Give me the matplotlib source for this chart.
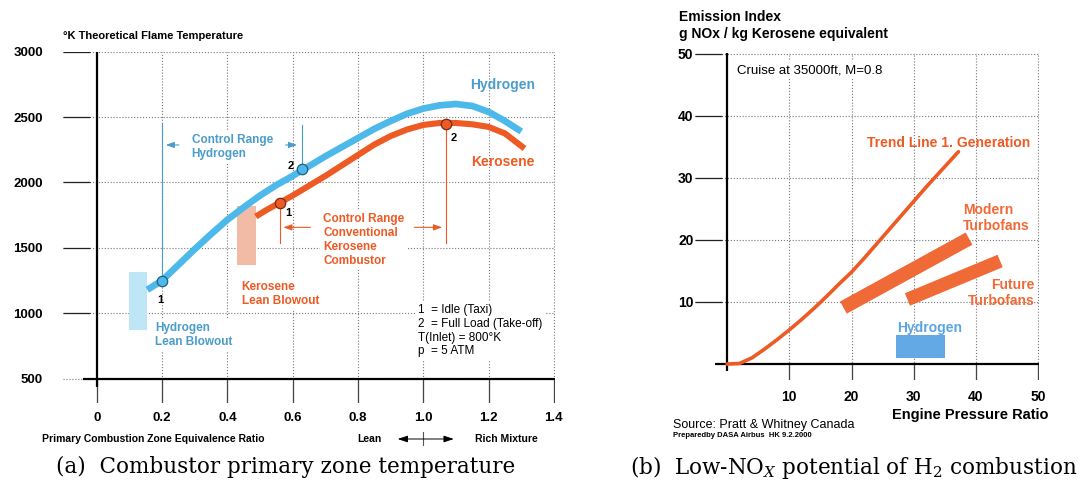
import matplotlib.pyplot as plt
import numpy as np

plt.rcParams['font.family'] = 'Liberation Sans'
plt.rcParams['mathtext.fontset'] = 'dejavuserif'

# (a) theoretical flame temperature vs primary zone equivalence ratio
phi_h2 = [0.155, 0.2, 0.25, 0.3, 0.35, 0.4, 0.45, 0.5, 0.55, 0.6, 0.65, 0.7, 0.75, 0.8,
          0.85, 0.9, 0.95, 1.0, 1.05, 1.1, 1.15, 1.2, 1.25, 1.3]
temp_h2 = [1180, 1250, 1370, 1490, 1605, 1715, 1810, 1900, 1980, 2050, 2125, 2200, 2270, 2340,
           2410, 2470, 2525, 2565, 2590, 2600, 2585, 2540, 2470, 2390]
phi_ker = [0.487, 0.52, 0.56, 0.6, 0.65, 0.7, 0.75, 0.8, 0.85, 0.9, 0.95, 1.0, 1.05, 1.1,
           1.15, 1.2, 1.25, 1.31]
temp_ker = [1740, 1790, 1845, 1900, 1975, 2050, 2130, 2210, 2290, 2355, 2405, 2440, 2455, 2455,
            2445, 2425, 2375, 2260]

# operating points: 1 = idle, 2 = full load
h2_pts_phi = [0.2, 0.63]
h2_pts_temp = [1250, 2100]
ker_pts_phi = [0.56, 1.07]
ker_pts_temp = [1845, 2448]

# lean blowout regions (phi range, temperature range)
h2_blowout_phi = [0.10, 0.155]
h2_blowout_temp = [870, 1315]
ker_blowout_phi = [0.43, 0.487]
ker_blowout_temp = [1370, 1820]

phi_ticks = [0, 0.2, 0.4, 0.6, 0.8, 1.0, 1.2, 1.4]
phi_labels = ['0', '0.2', '0.4', '0.6', '0.8', '1.0', '1.2', '1.4']
temp_ticks = [500, 1000, 1500, 2000, 2500, 3000]

# (b) NOx emission index vs engine pressure ratio
epr_trend = [0, 2, 4, 6, 8, 10, 12, 14, 16, 18, 20, 22, 24, 26, 28, 30, 32, 34, 37.2]
ei_trend = [0, 0.1, 1.0, 2.4, 3.9, 5.5, 7.2, 9.0, 10.9, 12.9, 14.8, 17.0, 19.3, 21.6, 23.9,
            26.2, 28.5, 30.7, 34.2]
modern_epr = [18.7, 38.9]
modern_ei = [9.1, 20.2]
future_epr = [29.0, 43.9]
future_ei = [10.4, 16.6]
h2_epr = [27.1, 35.0]
h2_ei = [0.95, 4.7]
epr_ticks = [10, 20, 30, 40, 50]
ei_ticks = [10, 20, 30, 40, 50]

BLUE = '#4db8ea'
BLUE_TXT = '#4a9cca'
RED = '#ee5a24'
ORANGE = '#ef6a36'
GRID = dict(color='#777777', linestyle=':', linewidth=0.8)

W, H = 1091, 486
fig = plt.figure(figsize=(W / 100, H / 100), dpi=100)


def px_axes(x0, y0, x1, y1):
    return fig.add_axes([x0 / W, 1 - y1 / H, (x1 - x0) / W, (y1 - y0) / H])


def style_axes(ax):
    for s in ax.spines.values():
        s.set_visible(False)
    ax.set_axisbelow(True)
    ax.grid(True, **GRID)
    ax.tick_params(length=0)


# ---------------- left panel ----------------
ax = px_axes(63, 51.7, 555, 403)
style_axes(ax)
ax.set_xlim(-0.1032, 1.4033)
ax.set_ylim(314.2, 3000)
ax.set_xticks(phi_ticks, phi_labels, fontsize=9.5, fontweight='bold')
ax.set_yticks(temp_ticks, [str(t) for t in temp_ticks], fontsize=9.5, fontweight='bold')
ax.tick_params(axis='x', pad=6.5)
ax.tick_params(axis='y', pad=14.4)

# solid tick stubs and axes
ax.hlines(temp_ticks[1:], -0.1032, -0.02, color='#222222', lw=0.9)
ax.vlines(phi_ticks, 314.2, 500, color='#444444', lw=0.9)
ax.plot([0, 0], [437, 3000], color='black', lw=1.6, solid_capstyle='butt')
ax.plot([-0.042, 1.403], [500, 500], color='black', lw=1.6, solid_capstyle='butt')

ax.fill_between(h2_blowout_phi, h2_blowout_temp[0], h2_blowout_temp[1],
                color='#bee6f6', lw=0, zorder=2)
ax.fill_between(ker_blowout_phi, ker_blowout_temp[0], ker_blowout_temp[1],
                color='#f2bba6', lw=0, zorder=2)

# control range markers
ax.plot([h2_pts_phi[0]] * 2, [2455, h2_pts_temp[0]], color=BLUE_TXT, lw=0.8, zorder=3)
ax.plot([0.628] * 2, [2440, h2_pts_temp[1]], color=BLUE_TXT, lw=0.8, zorder=3)
ax.plot([ker_pts_phi[0]] * 2, [ker_pts_temp[0], 1535], color=RED, lw=0.8, zorder=3)
ax.plot([ker_pts_phi[1]] * 2, [ker_pts_temp[1], 1535], color=RED, lw=0.8, zorder=3)

arrow = '-|>,head_length=0.5,head_width=0.18'
ax.annotate('', xy=(0.203, 2287), xytext=(0.26, 2287),
            arrowprops=dict(arrowstyle=arrow, color=BLUE_TXT, lw=0.8))
ax.annotate('', xy=(0.622, 2287), xytext=(0.57, 2287),
            arrowprops=dict(arrowstyle=arrow, color=BLUE_TXT, lw=0.8))
ax.annotate('', xy=(0.563, 1657), xytext=(0.663, 1657),
            arrowprops=dict(arrowstyle=arrow, color=RED, lw=0.8))
ax.annotate('', xy=(1.066, 1657), xytext=(0.964, 1657),
            arrowprops=dict(arrowstyle=arrow, color=RED, lw=0.8))

ax.plot(phi_h2, temp_h2, color=BLUE, lw=4.8, solid_capstyle='butt',
        solid_joinstyle='round', zorder=4)
ax.plot(phi_ker, temp_ker, color=RED, lw=4.4, solid_capstyle='butt',
        solid_joinstyle='round', zorder=4)
ax.plot(h2_pts_phi, h2_pts_temp, 'o', ms=7.5, mfc=BLUE, mec='#1f5f7f', mew=0.9, zorder=5)
ax.plot(ker_pts_phi, ker_pts_temp, 'o', ms=7.5, mfc=RED, mec='#7a2a10', mew=0.9, zorder=5)

num = dict(fontsize=8, fontweight='bold', ha='center', va='center', zorder=6)
ax.text(0.196, 1101, '1', **num)
ax.text(0.595, 2128, '2', **num)
ax.text(0.587, 1765, '1', **num)
ax.text(1.094, 2338, '2', **num)

box = dict(facecolor='white', edgecolor='none', pad=2)
lbl = dict(fontsize=8.5, fontweight='bold', va='center', linespacing=1.25)
ax.text(0.291, 2271, 'Control Range\nHydrogen', color=BLUE_TXT, bbox=box, **lbl)
ax.text(0.693, 1560, 'Control Range\nConventional\nKerosene\nCombustor',
        color=RED, bbox=box, **lbl)
ax.text(0.444, 1148, 'Kerosene\nLean Blowout', color=RED, bbox=box, **lbl)
ax.text(0.1785, 834, 'Hydrogen\nLean Blowout', color=BLUE_TXT, bbox=box, **lbl)
ax.text(0.985, 867, '1  = Idle (Taxi)\n2  = Full Load (Take-off)\nT(Inlet) = 800°K\np  = 5 ATM',
        fontsize=8.5, va='center', linespacing=1.2, bbox=box)
ax.text(1.143, 2745, 'Hydrogen', color=BLUE_TXT, fontsize=10, fontweight='bold', va='center')
ax.text(1.148, 2159, 'Kerosene', color=RED, fontsize=10, fontweight='bold', va='center')

ax.text(-0.103, 3120, '°K Theoretical Flame Temperature', fontsize=8, fontweight='bold',
        va='center')
ax.text(-0.167, 39, 'Primary Combustion Zone Equivalence Ratio', fontsize=7.5,
        fontweight='bold', va='center')
ax.text(0.834, 39, 'Lean', fontsize=7.5, fontweight='bold', ha='center', va='center')
ax.text(1.255, 39, 'Rich Mixture', fontsize=7.5, fontweight='bold', ha='center', va='center')
ax.annotate('', xy=(0.913, 39), xytext=(1.102, 39), annotation_clip=False,
            arrowprops=dict(arrowstyle='<|-|>,head_length=0.6,head_width=0.2',
                            color='black', lw=0.7))
ax.plot([1.0, 1.0], [95, -7], color='#555555', lw=0.8, clip_on=False)

# ---------------- right panel ----------------
bx = px_axes(694.8, 52.7, 1039.3, 380)
style_axes(bx)
bx.set_xlim(-5.2, 50.2)
bx.set_ylim(-2.57, 50.15)
bx.set_xticks(epr_ticks, [str(t) for t in epr_ticks], fontsize=10, fontweight='bold')
bx.set_yticks(ei_ticks, [str(t) for t in ei_ticks], fontsize=10, fontweight='bold')
bx.tick_params(axis='x', pad=7.5)
bx.tick_params(axis='y', pad=1)

bx.hlines(ei_ticks, -5.2, -0.8, color='#222222', lw=0.9)
bx.vlines(epr_ticks, -2.57, 0, color='#444444', lw=0.9)
bx.plot([0, 0], [-1.1, 50.15], color='black', lw=1.6, solid_capstyle='butt')
bx.plot([-1.9, 50.1], [0, 0], color='black', lw=1.6, solid_capstyle='butt')

bx.plot(epr_trend, ei_trend, color=RED, lw=2.6, solid_capstyle='round',
        solid_joinstyle='round', zorder=4)
bx.plot(modern_epr, modern_ei, color=ORANGE, lw=10, solid_capstyle='butt', zorder=4)
bx.plot(future_epr, future_ei, color=ORANGE, lw=9.7, solid_capstyle='butt', zorder=4)
bx.fill_between(h2_epr, h2_ei[0], h2_ei[1], color='#62a9e6', lw=0, zorder=4)

bx.text(1.64, 47.35, 'Cruise at 35000ft, M=0.8', fontsize=9.5, va='center', bbox=box)
bx.text(22.45, 35.6, 'Trend Line 1. Generation', color=RED, fontsize=10,
        fontweight='bold', va='center')
bx.text(37.9, 23.5, 'Modern\nTurbofans', color=ORANGE, fontsize=10, fontweight='bold',
        va='center', linespacing=1.2)
bx.text(49.5, 11.5, 'Future\nTurbofans', color=ORANGE, fontsize=10, fontweight='bold',
        va='center', ha='right', multialignment='right', linespacing=1.2)
bx.text(27.36, 5.73, 'Hydrogen', color='#5aa5e6', fontsize=10, fontweight='bold', va='center')

bx.text(-7.68, 55.9, 'Emission Index', fontsize=10, fontweight='bold', va='center')
bx.text(-7.68, 53.1, 'g NOx / kg Kerosene equivalent', fontsize=10, fontweight='bold',
        va='center')
bx.text(39.05, -8.2, 'Engine Pressure Ratio', fontsize=10.5, fontweight='bold',
        ha='center', va='center')
bx.text(-8.65, -9.8, 'Source: Pratt & Whitney Canada', fontsize=9, va='center')
bx.text(-8.65, -11.5, 'Preparedby DASA Airbus  HK 9.2.2000', fontsize=5.5,
        fontweight='bold', va='center')

# sub-figure captions
cap = dict(fontsize=15.5, family='DejaVu Serif', va='center')
fig.text(55.7 / W, 1 - 467 / H, '(a)  Combustor primary zone temperature', **cap)
fig.text(630 / W, 1 - 467 / H, r'(b)  Low-NO$_X$ potential of H$_2$ combustion', **cap)

fig.savefig('out.png', dpi=100)
